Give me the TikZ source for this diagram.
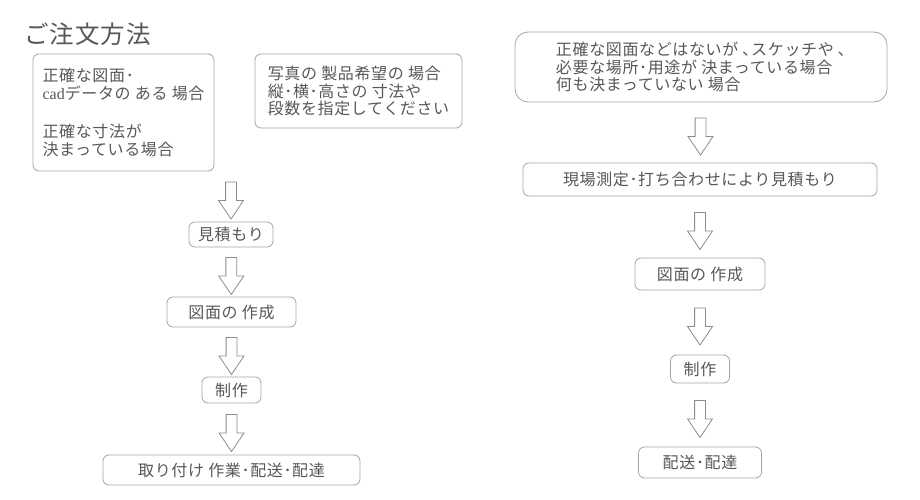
\documentclass[tikz,border=0pt]{standalone}
\usepackage{fontspec}
\usetikzlibrary{shapes.arrows,calc}
\newfontfamily\jpfont[LetterSpace=4]{Noto Sans CJK JP}
\newfontfamily\cadfont{Liberation Serif}
\definecolor{inkgray}{HTML}{575757}
\definecolor{boxgray}{HTML}{A3A3A3}
\definecolor{arrowgray}{HTML}{8C8C8C}

\begin{document}
\begin{tikzpicture}[x=1pt, y=-1pt,
  notebox/.style={draw=boxgray, line width=0.8pt, rounded corners=6pt, inner sep=2pt,
    align=left, text=inkgray, font=\jpfont\fontsize{16}{17.5}\selectfont},
  stepbox/.style={draw=boxgray, line width=0.8pt, rounded corners=6pt, inner sep=2pt,
    text=inkgray, font=\jpfont\fontsize{16}{17.5}\selectfont},
  flowarrow/.style={single arrow, draw=arrowgray, line width=0.8pt, rotate=-90,
    minimum height=37pt, minimum width=20pt, inner xsep=0pt, inner ysep=5pt,
    single arrow tip angle=68, single arrow head indent=0pt}]

\useasboundingbox (0,0) rectangle (920,500);

% title
\node[text=inkgray, font=\jpfont\fontsize{24.5}{28}\selectfont, anchor=west] (title) at (21,34) {ご注文方法};

% left column: drawings or sizes known
\node[notebox, minimum width=181pt, minimum height=117pt] (exact) at (123.5,112.5)
  {正確な図面･\\{\cadfont cad}データの ある 場合\\[21pt]正確な寸法が\\決まっている場合};
\node[notebox, minimum width=207pt, minimum height=74pt] (photo) at (358.5,91)
  {写真の 製品希望の 場合\\縦･横･高さの 寸法や\\段数を指定してください};

\node[stepbox, minimum width=84pt, minimum height=25pt] (est) at (231,234.5) {見積もり};
\node[stepbox, minimum width=129pt, minimum height=30pt] (drw) at (231.5,312) {図面の 作成};
\node[stepbox, minimum width=59pt, minimum height=26pt] (make) at (231.5,390) {制作};
\node[stepbox, minimum width=257pt, minimum height=30pt] (ship) at (231.5,470) {取り付け 作業･配送･配達};

% right column: nothing fixed yet
\node[notebox, rounded corners=13pt, minimum width=372pt, minimum height=70pt] (vague) at (701,67)
  {正確な図面などはないが ､スケッチや ､\\必要な場所･用途が 決まっている場合\\何も決まっていない 場合};
\node[stepbox, minimum width=354pt, minimum height=33pt] (site) at (700,179.5) {現場測定･打ち合わせにより見積もり};
\node[stepbox, minimum width=130pt, minimum height=32pt] (rdrw) at (700,274) {図面の 作成};
\node[stepbox, minimum width=59pt, minimum height=28pt] (rmake) at (700,369) {制作};
\node[stepbox, minimum width=123pt, minimum height=31pt] (rship) at (700,462.5) {配送･配達};

% block arrows
\node[flowarrow] (arr-est) at ($(est.north)!0.5!(est.north |- exact.south)$) {};
\foreach \a/\b in {est/drw, drw/make, make/ship, vague/site, site/rdrw, rdrw/rmake, rmake/rship}
  \node[flowarrow] (arr-\b) at ($(\a.south)!0.5!(\b.north)$) {};

\end{tikzpicture}
\end{document}
